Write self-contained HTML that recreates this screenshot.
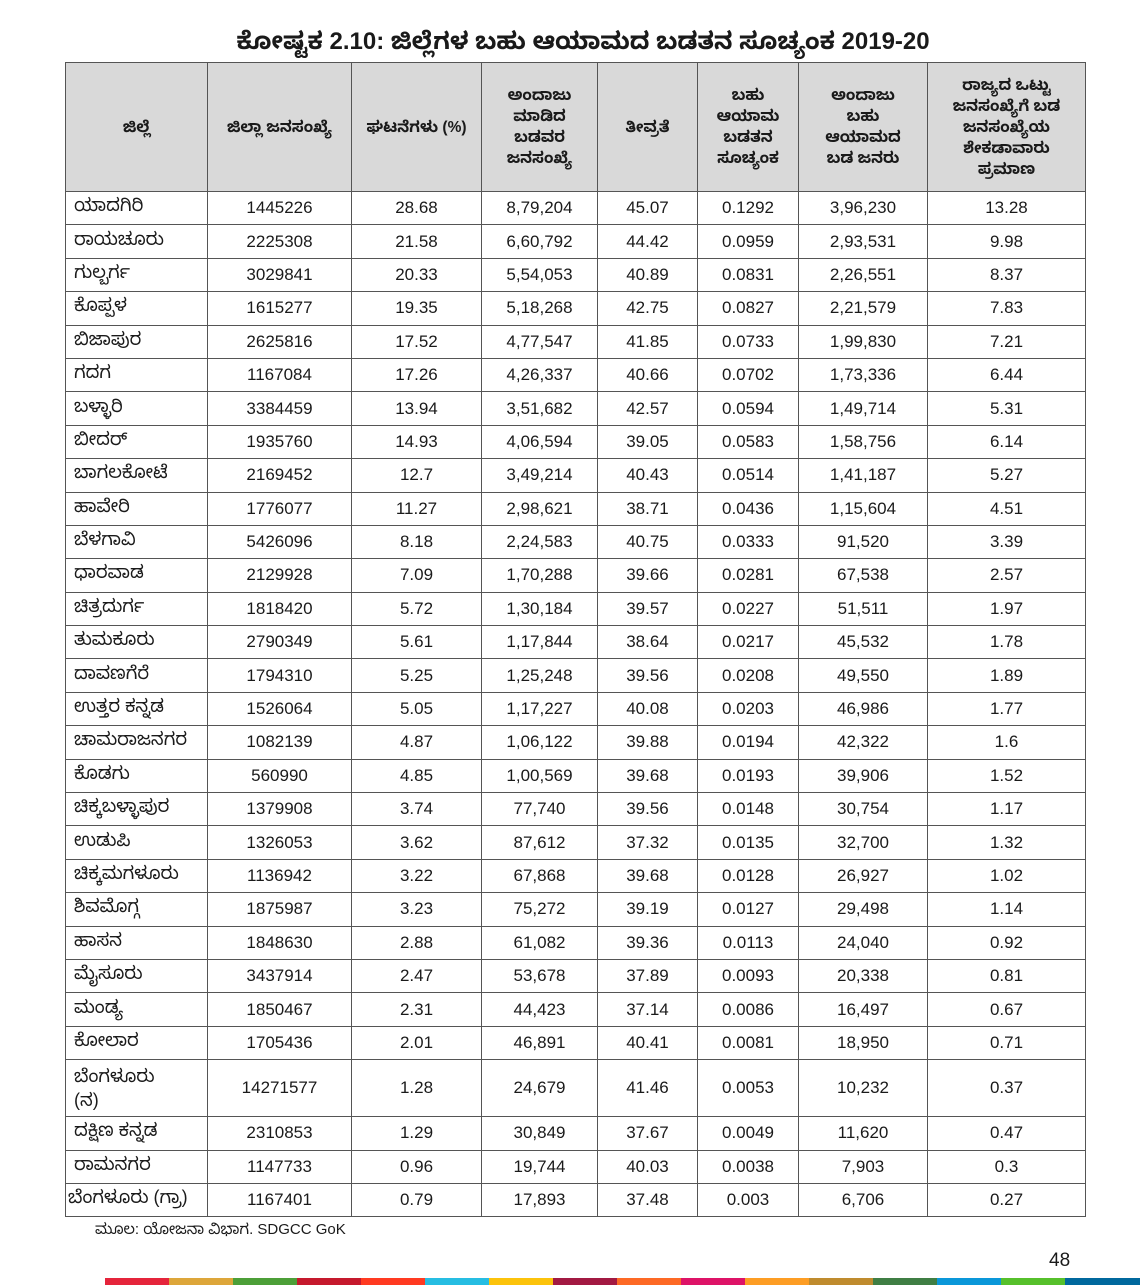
<!DOCTYPE html>
<html><head><meta charset="utf-8"><style>
body{margin:0;width:1140px;height:1285px;background:#fff;position:relative;font-family:"Liberation Sans","Noto Sans Kannada",sans-serif;color:#1a1a1a;overflow:hidden}
.title{position:absolute;left:0;width:1166px;top:28px;text-align:center;font-weight:bold;font-size:24px}
table{position:absolute;left:65px;top:62px;border-collapse:collapse;table-layout:fixed;width:1020px}
td,th{border:1px solid #555;padding:0 2px;font-size:17px;text-align:center;height:32.4px;white-space:nowrap;overflow:hidden}
th{background:#d9d9d9;height:128px;font-size:15.5px;font-weight:bold;line-height:21px}
td:first-child{text-align:left;padding-left:8px;font-size:18px}
.src{position:absolute;left:95px;top:1221px;font-size:15px}
.pg{position:absolute;left:1049px;top:1250px;font-size:19px}
.bar{position:absolute;top:1278px;height:7px;width:64px}
</style></head><body>
<div class="title">ಕೋಷ್ಟಕ 2.10: ಜಿಲ್ಲೆಗಳ ಬಹು ಆಯಾಮದ ಬಡತನ ಸೂಚ್ಯಂಕ 2019-20</div>
<table>
<colgroup><col style="width:142px"><col style="width:144px"><col style="width:130px"><col style="width:116px"><col style="width:100px"><col style="width:101px"><col style="width:129px"><col style="width:158px"></colgroup>
<tr><th>ಜಿಲ್ಲೆ</th><th>ಜಿಲ್ಲಾ ಜನಸಂಖ್ಯೆ</th><th>ಘಟನೆಗಳು (%)</th><th>ಅಂದಾಜು<br>ಮಾಡಿದ<br>ಬಡವರ<br>ಜನಸಂಖ್ಯೆ</th><th>ತೀವ್ರತೆ</th><th>ಬಹು<br>ಆಯಾಮ<br>ಬಡತನ<br>ಸೂಚ್ಯಂಕ</th><th>ಅಂದಾಜು<br>ಬಹು<br>ಆಯಾಮದ<br>ಬಡ ಜನರು</th><th>ರಾಜ್ಯದ ಒಟ್ಟು<br>ಜನಸಂಖ್ಯೆಗೆ ಬಡ<br>ಜನಸಂಖ್ಯೆಯ<br>ಶೇಕಡಾವಾರು<br>ಪ್ರಮಾಣ</th></tr>
<tr><td>ಯಾದಗಿರಿ</td><td>1445226</td><td>28.68</td><td>8,79,204</td><td>45.07</td><td>0.1292</td><td>3,96,230</td><td>13.28</td></tr>
<tr><td>ರಾಯಚೂರು</td><td>2225308</td><td>21.58</td><td>6,60,792</td><td>44.42</td><td>0.0959</td><td>2,93,531</td><td>9.98</td></tr>
<tr><td>ಗುಲ್ಬರ್ಗ</td><td>3029841</td><td>20.33</td><td>5,54,053</td><td>40.89</td><td>0.0831</td><td>2,26,551</td><td>8.37</td></tr>
<tr><td>ಕೊಪ್ಪಳ</td><td>1615277</td><td>19.35</td><td>5,18,268</td><td>42.75</td><td>0.0827</td><td>2,21,579</td><td>7.83</td></tr>
<tr><td>ಬಿಜಾಪುರ</td><td>2625816</td><td>17.52</td><td>4,77,547</td><td>41.85</td><td>0.0733</td><td>1,99,830</td><td>7.21</td></tr>
<tr><td>ಗದಗ</td><td>1167084</td><td>17.26</td><td>4,26,337</td><td>40.66</td><td>0.0702</td><td>1,73,336</td><td>6.44</td></tr>
<tr><td>ಬಳ್ಳಾರಿ</td><td>3384459</td><td>13.94</td><td>3,51,682</td><td>42.57</td><td>0.0594</td><td>1,49,714</td><td>5.31</td></tr>
<tr><td>ಬೀದರ್</td><td>1935760</td><td>14.93</td><td>4,06,594</td><td>39.05</td><td>0.0583</td><td>1,58,756</td><td>6.14</td></tr>
<tr><td>ಬಾಗಲಕೋಟೆ</td><td>2169452</td><td>12.7</td><td>3,49,214</td><td>40.43</td><td>0.0514</td><td>1,41,187</td><td>5.27</td></tr>
<tr><td>ಹಾವೇರಿ</td><td>1776077</td><td>11.27</td><td>2,98,621</td><td>38.71</td><td>0.0436</td><td>1,15,604</td><td>4.51</td></tr>
<tr><td>ಬೆಳಗಾವಿ</td><td>5426096</td><td>8.18</td><td>2,24,583</td><td>40.75</td><td>0.0333</td><td>91,520</td><td>3.39</td></tr>
<tr><td>ಧಾರವಾಡ</td><td>2129928</td><td>7.09</td><td>1,70,288</td><td>39.66</td><td>0.0281</td><td>67,538</td><td>2.57</td></tr>
<tr><td>ಚಿತ್ರದುರ್ಗ</td><td>1818420</td><td>5.72</td><td>1,30,184</td><td>39.57</td><td>0.0227</td><td>51,511</td><td>1.97</td></tr>
<tr><td>ತುಮಕೂರು</td><td>2790349</td><td>5.61</td><td>1,17,844</td><td>38.64</td><td>0.0217</td><td>45,532</td><td>1.78</td></tr>
<tr><td>ದಾವಣಗೆರೆ</td><td>1794310</td><td>5.25</td><td>1,25,248</td><td>39.56</td><td>0.0208</td><td>49,550</td><td>1.89</td></tr>
<tr><td>ಉತ್ತರ ಕನ್ನಡ</td><td>1526064</td><td>5.05</td><td>1,17,227</td><td>40.08</td><td>0.0203</td><td>46,986</td><td>1.77</td></tr>
<tr><td>ಚಾಮರಾಜನಗರ</td><td>1082139</td><td>4.87</td><td>1,06,122</td><td>39.88</td><td>0.0194</td><td>42,322</td><td>1.6</td></tr>
<tr><td>ಕೊಡಗು</td><td>560990</td><td>4.85</td><td>1,00,569</td><td>39.68</td><td>0.0193</td><td>39,906</td><td>1.52</td></tr>
<tr><td>ಚಿಕ್ಕಬಳ್ಳಾಪುರ</td><td>1379908</td><td>3.74</td><td>77,740</td><td>39.56</td><td>0.0148</td><td>30,754</td><td>1.17</td></tr>
<tr><td>ಉಡುಪಿ</td><td>1326053</td><td>3.62</td><td>87,612</td><td>37.32</td><td>0.0135</td><td>32,700</td><td>1.32</td></tr>
<tr><td>ಚಿಕ್ಕಮಗಳೂರು</td><td>1136942</td><td>3.22</td><td>67,868</td><td>39.68</td><td>0.0128</td><td>26,927</td><td>1.02</td></tr>
<tr><td>ಶಿವಮೊಗ್ಗ</td><td>1875987</td><td>3.23</td><td>75,272</td><td>39.19</td><td>0.0127</td><td>29,498</td><td>1.14</td></tr>
<tr><td>ಹಾಸನ</td><td>1848630</td><td>2.88</td><td>61,082</td><td>39.36</td><td>0.0113</td><td>24,040</td><td>0.92</td></tr>
<tr><td>ಮೈಸೂರು</td><td>3437914</td><td>2.47</td><td>53,678</td><td>37.89</td><td>0.0093</td><td>20,338</td><td>0.81</td></tr>
<tr><td>ಮಂಡ್ಯ</td><td>1850467</td><td>2.31</td><td>44,423</td><td>37.14</td><td>0.0086</td><td>16,497</td><td>0.67</td></tr>
<tr><td>ಕೋಲಾರ</td><td>1705436</td><td>2.01</td><td>46,891</td><td>40.41</td><td>0.0081</td><td>18,950</td><td>0.71</td></tr>
<tr><td style="height:56px;white-space:normal;line-height:24px">ಬೆಂಗಳೂರು<br>(ನ)</td><td>14271577</td><td>1.28</td><td>24,679</td><td>41.46</td><td>0.0053</td><td>10,232</td><td>0.37</td></tr>
<tr><td>ದಕ್ಷಿಣ ಕನ್ನಡ</td><td>2310853</td><td>1.29</td><td>30,849</td><td>37.67</td><td>0.0049</td><td>11,620</td><td>0.47</td></tr>
<tr><td>ರಾಮನಗರ</td><td>1147733</td><td>0.96</td><td>19,744</td><td>40.03</td><td>0.0038</td><td>7,903</td><td>0.3</td></tr>
<tr><td style="padding-left:2px">ಬೆಂಗಳೂರು (ಗ್ರಾ)</td><td>1167401</td><td>0.79</td><td>17,893</td><td>37.48</td><td>0.003</td><td>6,706</td><td>0.27</td></tr>
</table>
<div class="src">ಮೂಲ: ಯೋಜನಾ ವಿಭಾಗ. SDGCC GoK</div>
<div class="pg">48</div>
<div class="bar" style="left:105px;background:#e5243b"></div>
<div class="bar" style="left:169px;background:#dda63a"></div>
<div class="bar" style="left:233px;background:#4c9f38"></div>
<div class="bar" style="left:297px;background:#c5192d"></div>
<div class="bar" style="left:361px;background:#ff3a21"></div>
<div class="bar" style="left:425px;background:#26bde2"></div>
<div class="bar" style="left:489px;background:#fcc30b"></div>
<div class="bar" style="left:553px;background:#a21942"></div>
<div class="bar" style="left:617px;background:#fd6925"></div>
<div class="bar" style="left:681px;background:#dd1367"></div>
<div class="bar" style="left:745px;background:#fd9d24"></div>
<div class="bar" style="left:809px;background:#bf8b2e"></div>
<div class="bar" style="left:873px;background:#3f7e44"></div>
<div class="bar" style="left:937px;background:#0a97d9"></div>
<div class="bar" style="left:1001px;background:#56c02b"></div>
<div class="bar" style="left:1065px;background:#00689d;width:75px"></div>
</body></html>
